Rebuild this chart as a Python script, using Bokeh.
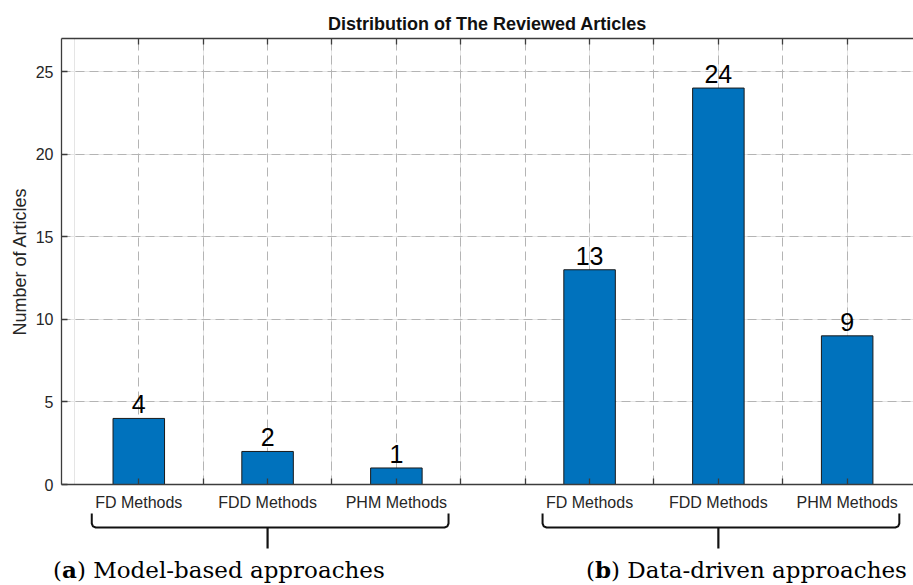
from bokeh.plotting import figure
from bokeh.models import FixedTicker, LinearAxis, Range1d, ColumnDataSource, Grid, Div
from bokeh.layouts import column
from bokeh.embed import file_html
from bokeh.resources import INLINE
from bokeh.core.properties import value

# ---------------- data ----------------
title_text = "Distribution of The Reviewed Articles"
y_label = "Number of Articles"
group_names = ["Model-based approaches", "Data-driven approaches"]
group_tags = ["a", "b"]
categories = ["FD Methods", "FDD Methods", "PHM Methods"]
model_based = [4, 2, 1]
data_driven = [13, 24, 9]
y_ticks = [0, 5, 10, 15, 20, 25]

# ---------------- layout ----------------
GROUP_OFFSET = 7
SLOT = 2
xs, labels, tops = [], [], []
group_slots = []
for g, series in enumerate([model_based, data_driven]):
    slots = []
    for i, (c, v) in enumerate(zip(categories, series)):
        pos = 1 + g * GROUP_OFFSET + i * SLOT
        xs.append(pos)
        labels.append(c)
        tops.append(v)
        slots.append(pos)
    group_slots.append(slots)

X0, X1 = -0.2, 13.03
W = 913
FL, FT, FB = 61, 38, 10
FRAME_H = 446
H1 = FT + FRAME_H + FB
H3 = 31
H2 = 585 - H1 - H3

BAR_COLOR = "#0072BD"
AX_COLOR = "#3c3c3c"
TXT_COLOR = "#262626"
GRID_COLOR = "#b4b4b4"
SANS = "Liberation Sans"

xr = Range1d(X0, X1)
p = figure(width=W, height=H1, x_range=xr, y_range=Range1d(0, 27),
           output_backend="svg", toolbar_location=None,
           min_border_left=FL, min_border_right=0, min_border_top=FT,
           min_border_bottom=FB, x_axis_location=None, y_axis_location=None)
p.outline_line_color = None
p.background_fill_color = "white"
p.border_fill_color = "white"

p.title.text = title_text
p.title.align = "center"
p.title.text_font = SANS
p.title.text_font_size = "18px"
p.title.text_font_style = "bold"
p.title.text_color = "#111111"
p.title.standoff = 9

all_ticks = list(range(1, max(xs) + 1))
blank = {t: "" for t in all_ticks}

xaxis = LinearAxis(ticker=FixedTicker(ticks=all_ticks), major_label_overrides=blank)
yaxis = LinearAxis(ticker=FixedTicker(ticks=y_ticks), axis_label=y_label)
top_axis = LinearAxis(ticker=FixedTicker(ticks=all_ticks), major_label_overrides=blank)
for ax in (xaxis, yaxis, top_axis):
    ax.axis_line_color = AX_COLOR
    ax.axis_line_width = 1.3
    ax.major_tick_line_color = AX_COLOR
    ax.major_tick_line_width = 1.3
    ax.major_tick_in = 6
    ax.major_tick_out = 0
    ax.minor_tick_line_color = None
    ax.major_label_text_font = SANS
    ax.major_label_text_color = TXT_COLOR
for ax in (xaxis, top_axis):
    ax.major_label_text_font_size = "0px"
    ax.major_label_standoff = 0
    ax.axis_label_standoff = 0
yaxis.major_label_text_font_size = "16px"
yaxis.major_label_standoff = 8
yaxis.axis_label_text_font = SANS
yaxis.axis_label_text_font_size = "18px"
yaxis.axis_label_text_font_style = "normal"
yaxis.axis_label_text_color = TXT_COLOR
yaxis.axis_label_standoff = 3
p.add_layout(xaxis, "below")
p.add_layout(yaxis, "left")
p.add_layout(top_axis, "above")

xg = Grid(dimension=0, ticker=FixedTicker(ticks=all_ticks), grid_line_color=GRID_COLOR,
          grid_line_dash="9 5", grid_line_width=1)
yg = Grid(dimension=1, ticker=FixedTicker(ticks=y_ticks), grid_line_color=GRID_COLOR,
          grid_line_dash="9 5", grid_line_width=1)
p.add_layout(xg)
p.add_layout(yg)

src = ColumnDataSource(dict(x=xs, top=tops, txt=[str(v) for v in tops]))
p.vbar(x="x", top="top", width=0.8, bottom=0, source=src, fill_color=BAR_COLOR,
       line_color="#1a1a1a", line_width=1)
p.text(x="x", y="top", text="txt", source=src, text_align="center",
       text_baseline="middle", y_offset=-14, text_font=value(SANS),
       text_font_size="25px", text_color="black")

# ---------------- lower panel: tick labels and braces ----------------
# frames of the stacked figures are aligned by the column, so it shares the x range
q = figure(width=W, height=H2, x_range=xr, y_range=Range1d(H2, 0),
           output_backend="svg", toolbar_location=None,
           min_border_left=FL, min_border_right=0, min_border_top=0, min_border_bottom=0,
           x_axis_location=None, y_axis_location=None)
q.outline_line_color = None
q.grid.visible = False
q.background_fill_color = "white"
q.border_fill_color = "white"

PX = (X1 - X0) / (W - FL)   # data units per pixel

LBL_Y = 8
q.text(x=xs, y=[LBL_Y] * len(xs), text=labels, text_align="center",
       text_baseline="middle", text_font=value(SANS), text_font_size="16px",
       text_color=TXT_COLOR)

BR_TOP, BR_MID, BR_BOT = 19, 33, 54
R = 4 * PX
for slots in group_slots:
    xa = slots[0] - 0.73
    xb = slots[-1] + 0.81
    xm = slots[len(slots) // 2]
    bx = [xa, xa, xa + R * 0.3, xa + R, xb - R, xb - R * 0.3, xb, xb]
    by = [BR_TOP, BR_MID - 4, BR_MID - 1.2, BR_MID, BR_MID, BR_MID - 1.2, BR_MID - 4, BR_TOP]
    q.line(bx, by, line_color="#111111", line_width=2)
    q.line([xm, xm], [BR_MID, BR_BOT], line_color="#111111", line_width=2.2)

# ---------------- captions ----------------
cap_px = [53, 586]
spans = "".join(
    f'<span style="position:absolute;left:{cx}px;top:0;white-space:nowrap;">'
    f'(<b>{tag}</b>) {name}</span>'
    for tag, name, cx in zip(group_tags, group_names, cap_px))
cap_html = (f'<div style="position:relative;width:{W}px;height:{H3}px;'
            f"font-family:'DejaVu Serif';font-size:23px;line-height:{H3}px;color:#000;\">"
            f'{spans}</div>')
captions = Div(text=cap_html, width=W, height=H3, margin=0)

layout = column(p, q, captions, spacing=0)
open("out.html", "w").write(file_html(layout, INLINE))
